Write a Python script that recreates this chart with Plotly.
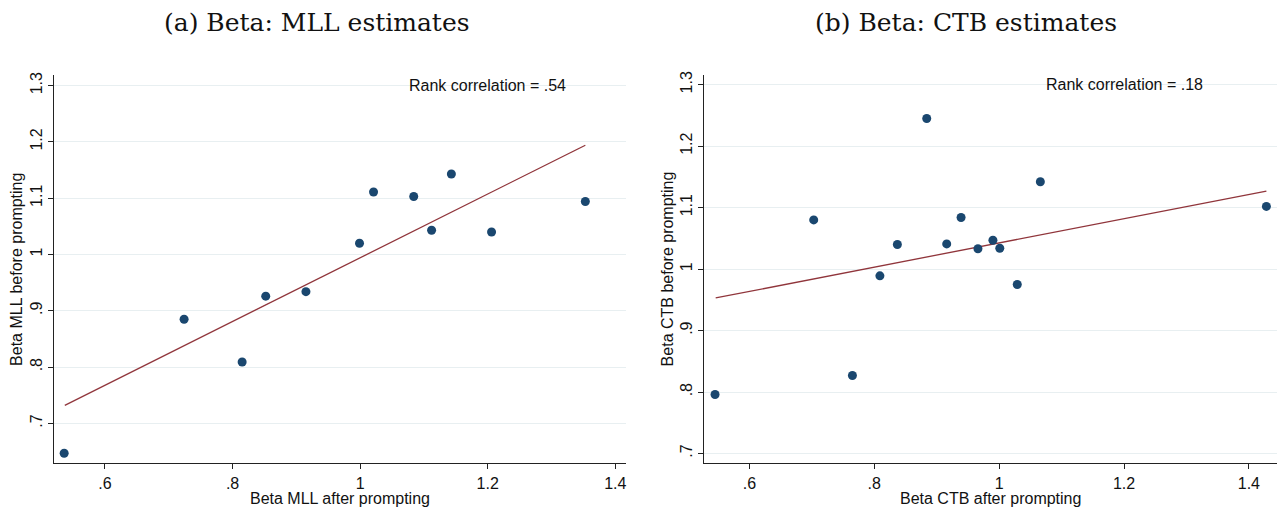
import plotly.graph_objects as go

# Panel (a): Beta MLL
mll_after = [0.536, 0.724, 0.815, 0.852, 0.915, 0.999, 1.021, 1.084, 1.112, 1.143, 1.206, 1.353]
mll_before = [0.647, 0.885, 0.809, 0.926, 0.934, 1.020, 1.111, 1.103, 1.043, 1.143, 1.040, 1.094]
mll_fit_x = [0.537, 1.353]
mll_fit_y = [0.732, 1.194]

# Panel (b): Beta CTB
ctb_after = [0.545, 0.703, 0.765, 0.809, 0.837, 0.884, 0.916, 0.939, 0.966, 0.990, 1.001, 1.029, 1.066, 1.428]
ctb_before = [0.796, 1.080, 0.827, 0.989, 1.040, 1.245, 1.041, 1.084, 1.033, 1.047, 1.034, 0.975, 1.142, 1.102]
ctb_fit_x = [0.546, 1.428]
ctb_fit_y = [0.953, 1.127]

titles = ["(a) Beta: MLL estimates", "(b) Beta: CTB estimates"]
xtitles = ["Beta MLL after prompting", "Beta CTB after prompting"]
ytitles = ["Beta MLL before prompting", "Beta CTB before prompting"]
rank_corr = [".54", ".18"]

x_ticks = [0.6, 0.8, 1.0, 1.2, 1.4]
x_ticklabels = [".6", ".8", "1", "1.2", "1.4"]
y_ticks = [0.7, 0.8, 0.9, 1.0, 1.1, 1.2, 1.3]
y_ticklabels = [".7", ".8", ".9", "1", "1.1", "1.2", "1.3"]

W, H = 1278, 510
NAVY = "#1a476f"
MAROON = "#90353b"
FONT = "Liberation Sans, Arial, sans-serif"
FS = 16

fig = go.Figure()

panels = [
    (mll_after, mll_before, mll_fit_x, mll_fit_y, "x", "y", [0.52, 1.416], [0.629, 1.318], (54, 626), 317),
    (ctb_after, ctb_before, ctb_fit_x, ctb_fit_y, "x2", "y2", [0.528, 1.445], [0.684, 1.315], (705, 1278), 967),
]

top_px, bot_px = 72, 463
ydom = [1 - bot_px / H, 1 - top_px / H]

for i, (xa, ya, fx, fy, xr, yr, xrange_, yrange_, (x0, x1), tcx) in enumerate(panels):
    fig.add_trace(go.Scatter(x=fx, y=fy, mode="lines", xaxis=xr, yaxis=yr,
                             line=dict(color=MAROON, width=1.3), showlegend=False,
                             hoverinfo="skip"))
    fig.add_trace(go.Scatter(x=xa, y=ya, mode="markers", xaxis=xr, yaxis=yr,
                             marker=dict(color=NAVY, size=9, line=dict(width=0)),
                             showlegend=False, cliponaxis=False))
    sfx = "" if i == 0 else "2"
    fig.update_layout(**{
        "xaxis" + sfx: dict(domain=[x0 / W, x1 / W], range=xrange_, anchor="y" + sfx,
                            tickvals=x_ticks, ticktext=x_ticklabels, showgrid=False,
                            zeroline=False, showline=True, linecolor="#222", linewidth=1,
                            ticks="outside", ticklen=5, tickcolor="#222",
                            tickfont=dict(family=FONT, size=FS, color="#111")),
        "yaxis" + sfx: dict(domain=ydom, range=yrange_, anchor="x" + sfx,
                            tickvals=y_ticks, ticktext=y_ticklabels, showgrid=True,
                            gridcolor="#e8eff1", gridwidth=1,
                            zeroline=False, showline=True, linecolor="#222", linewidth=1,
                            ticks="outside", ticklen=5, tickcolor="#222", tickangle=-90,
                            tickfont=dict(family=FONT, size=FS, color="#111")),
    })
    cx = (x0 + x1) / 2 / W
    fig.add_annotation(text=titles[i], xref="paper", yref="paper", x=tcx / W,
                       y=1 - 19 / H, showarrow=False, xanchor="center", yanchor="middle",
                       font=dict(family="DejaVu Serif, serif", size=25, color="#111"))
    fig.add_annotation(text=xtitles[i], xref="paper", yref="paper", x=cx, y=1 - 498 / H,
                       showarrow=False, xanchor="center", yanchor="middle",
                       font=dict(family=FONT, size=FS, color="#111"))
    fig.add_annotation(text=ytitles[i], xref="paper", yref="paper",
                       x=(17 if i == 0 else 668) / W, y=1 - 267 / H, textangle=-90,
                       showarrow=False, xanchor="center", yanchor="middle",
                       font=dict(family=FONT, size=FS, color="#111"))
    fig.add_annotation(text="Rank correlation = " + rank_corr[i], xref=xr, yref=yr,
                       x=1.2, y=1.3, showarrow=False, xanchor="center", yanchor="middle",
                       font=dict(family=FONT, size=FS, color="#111"))

fig.update_layout(width=W, height=H, margin=dict(l=0, r=0, t=0, b=0),
                  paper_bgcolor="white", plot_bgcolor="white")

fig.write_html("out.html", config={"displayModeBar": False},
               post_script="document.body.style.margin='0';document.body.style.overflow='hidden';")
